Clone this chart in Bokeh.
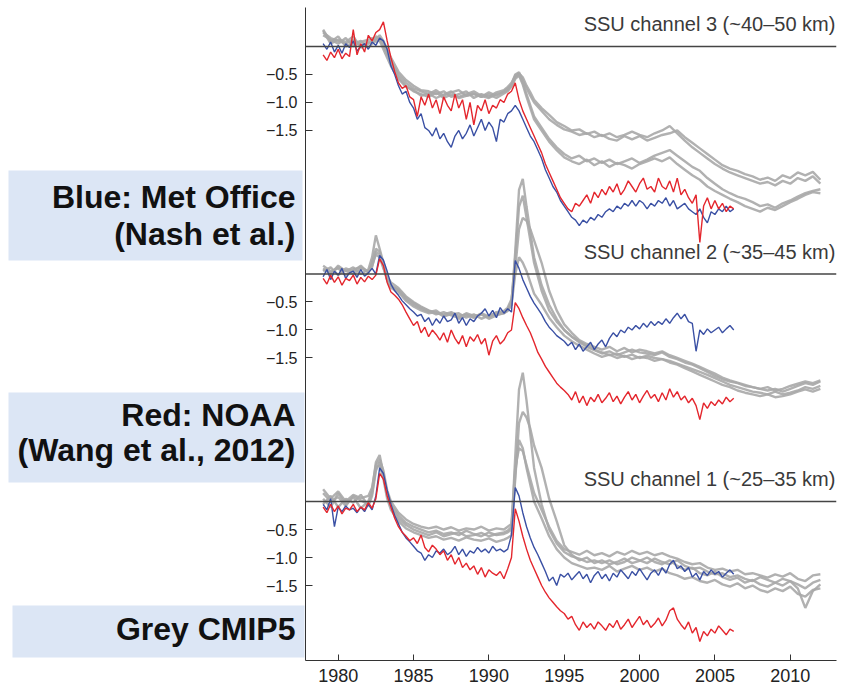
from bokeh.plotting import figure
from bokeh.layouts import row
from bokeh.models import Range1d, FixedTicker, Span, Label
from bokeh.core.properties import value
from bokeh.embed import file_html
from bokeh.resources import INLINE

# ---------------- data ----------------
obs_years = [1979.0 + 0.25 * i for i in range(110)]   # quarterly, 1979.0 - 2006.25

grey_years = [1979.0, 1979.5, 1980.0, 1980.5, 1981.0, 1981.5, 1982.0,
              1982.25, 1982.5, 1982.75, 1983.0, 1983.25, 1983.5,
              1984.0, 1984.5, 1985.0, 1985.5, 1986.0, 1986.5, 1987.0, 1987.5,
              1988.0, 1988.5, 1989.0, 1989.5, 1990.0, 1990.5, 1991.0,
              1991.25, 1991.5, 1991.75, 1992.0, 1992.25, 1992.5, 1992.75, 1993.0,
              1993.5, 1994.0, 1994.5, 1995.0, 1995.5, 1996.0, 1996.5, 1997.0,
              1997.5, 1998.0, 1998.5, 1999.0, 1999.5, 2000.0, 2000.5, 2001.0,
              2001.5, 2002.0, 2002.5, 2003.0, 2003.5, 2004.0, 2004.5, 2005.0,
              2005.5, 2006.0, 2006.5, 2007.0, 2007.5, 2008.0, 2008.5, 2009.0,
              2009.5, 2010.0, 2010.5, 2011.0, 2011.5, 2012.0]

# SSU channel 3
ch3_blue = [0.05, -0.05, 0.08, -0.10, 0.02, -0.12, 0.05, -0.02,
            0.10, -0.08, 0.00, 0.05, -0.05, 0.08, 0.02, 0.15,
            0.10, -0.05, -0.35, -0.50, -0.70, -0.85, -0.80, -1.00,
            -1.10, -1.30, -1.20, -1.45, -1.50, -1.60, -1.45, -1.65,
            -1.55, -1.70, -1.80, -1.60, -1.50, -1.65, -1.55, -1.40,
            -1.60, -1.45, -1.30, -1.50, -1.35, -1.45, -1.70, -1.30,
            -1.35, -1.20, -1.15, -1.05, -1.15, -1.30, -1.45, -1.60,
            -1.70, -1.85, -2.00, -2.20, -2.35, -2.50, -2.60, -2.75,
            -2.85, -2.95, -3.05, -3.10, -3.20, -3.10, -3.15, -3.05,
            -3.10, -3.00, -3.05, -2.95, -2.90, -2.95, -2.85, -2.90,
            -2.80, -2.85, -2.75, -2.85, -2.75, -2.80, -2.90, -2.80,
            -2.85, -2.75, -2.80, -2.70, -2.85, -2.75, -2.90, -2.85,
            -2.80, -2.90, -2.95, -3.00, -2.90, -3.05, -3.15, -2.95,
            -3.00, -2.90, -2.95, -2.85, -2.95, -2.90]
ch3_red = [-0.15, -0.25, -0.10, -0.20, -0.05, -0.22, -0.12, -0.18,
           0.30, -0.15, 0.05, -0.10, 0.20, 0.10, 0.25, 0.30,
           0.44, 0.10, -0.20, -0.45, -0.65, -0.75, -0.70, -0.90,
           -0.95, -1.25, -0.90, -1.05, -0.85, -1.10, -0.95, -1.20,
           -0.90, -1.05, -1.15, -0.85, -1.10, -0.95, -1.30, -1.00,
           -1.40, -1.05, -1.15, -0.95, -1.20, -1.05, -1.10, -0.95,
           -1.00, -0.85, -0.80, -0.65, -0.95, -1.15, -1.30, -1.45,
           -1.60, -1.75, -1.90, -2.10, -2.25, -2.40, -2.55, -2.70,
           -2.80, -2.90, -2.95, -2.80, -2.85, -2.75, -2.65, -2.80,
           -2.60, -2.70, -2.55, -2.65, -2.50, -2.60, -2.45, -2.65,
           -2.55, -2.40, -2.50, -2.60, -2.45, -2.35, -2.55, -2.50,
           -2.60, -2.35, -2.50, -2.55, -2.40, -2.60, -2.35, -2.65,
           -2.55, -2.70, -2.80, -2.65, -3.50, -2.85, -2.70, -2.90,
           -2.75, -2.90, -2.80, -2.95, -2.85, -2.90]
ch3_grey = [
    [0.25, 0.15, 0.10, 0.05, 0.12, 0.02, 0.08,
     0.10, 0.18, 0.15, 0.05, -0.10, -0.25,
     -0.50, -0.65, -0.75, -0.80, -0.85, -0.78, -0.88, -0.82, -0.78, -0.88, -0.85, -0.90, -0.82, -0.88, -0.80,
     -0.75, -0.68, -0.50, -0.46, -0.60, -0.75, -0.88, -1.00,
     -1.15, -1.30, -1.40, -1.48, -1.52, -1.58, -1.55, -1.62,
     -1.58, -1.65, -1.68, -1.60, -1.66, -1.60, -1.68, -1.63,
     -1.58, -1.55, -1.50, -1.62, -1.72, -1.82, -1.92, -2.02,
     -2.12, -2.18, -2.22, -2.28, -2.32, -2.38, -2.34, -2.40,
     -2.30, -2.35, -2.25, -2.30, -2.24, -2.38],
    [0.30, 0.08, 0.18, 0.00, 0.05, 0.10, -0.02,
     0.05, 0.12, 0.20, 0.10, -0.05, -0.20,
     -0.45, -0.60, -0.70, -0.78, -0.80, -0.85, -0.80, -0.90, -0.85, -0.80, -0.92, -0.85, -0.90, -0.82, -0.78,
     -0.72, -0.65, -0.52, -0.48, -0.55, -0.70, -0.82, -0.95,
     -1.10, -1.22, -1.35, -1.42, -1.50, -1.48, -1.56, -1.52,
     -1.60, -1.55, -1.62, -1.58, -1.52, -1.58, -1.62, -1.55,
     -1.50, -1.42, -1.55, -1.68, -1.80, -1.90, -2.00, -2.10,
     -2.18, -2.25, -2.30, -2.35, -2.40, -2.45, -2.42, -2.48,
     -2.40, -2.45, -2.35, -2.40, -2.32, -2.45],
    [0.20, 0.12, 0.05, 0.15, 0.00, 0.08, 0.12,
     0.15, 0.08, 0.12, 0.00, -0.15, -0.30,
     -0.55, -0.70, -0.80, -0.85, -0.90, -0.82, -0.92, -0.86, -0.90, -0.85, -0.80, -0.88, -0.92, -0.85, -0.82,
     -0.78, -0.70, -0.55, -0.50, -0.65, -0.85, -1.05, -1.25,
     -1.45, -1.65, -1.80, -1.92, -2.00, -1.95, -2.05, -2.00,
     -2.08, -2.02, -2.10, -2.05, -2.00, -2.08, -2.02, -1.95,
     -1.90, -1.85, -1.95, -2.05, -2.15, -2.22, -2.35, -2.45,
     -2.55, -2.62, -2.68, -2.72, -2.78, -2.85, -2.82, -2.88,
     -2.80, -2.75, -2.68, -2.62, -2.58, -2.55],
    [0.28, 0.05, 0.12, 0.08, 0.18, -0.02, 0.05,
     0.08, 0.15, 0.10, -0.05, -0.20, -0.35,
     -0.58, -0.72, -0.78, -0.88, -0.84, -0.92, -0.86, -0.80, -0.92, -0.88, -0.84, -0.90, -0.86, -0.92, -0.84,
     -0.80, -0.72, -0.58, -0.52, -0.68, -0.90, -1.10, -1.30,
     -1.50, -1.70, -1.85, -1.98, -2.05, -2.10, -2.02, -2.12,
     -2.05, -2.15, -2.08, -2.12, -2.18, -2.10, -2.05, -2.00,
     -2.05, -1.98, -2.10, -2.20, -2.30, -2.38, -2.50, -2.58,
     -2.65, -2.72, -2.78, -2.85, -2.90, -2.95, -2.88, -2.92,
     -2.85, -2.78, -2.72, -2.65, -2.60, -2.62],
]

# SSU channel 2
ch2_blue = [-0.05, 0.08, -0.10, 0.05, -0.02, 0.10, -0.08, 0.02,
            0.05, -0.06, 0.08, -0.04, 0.02, 0.10, 0.00, 0.33,
            0.25, 0.05, -0.18, -0.30, -0.38, -0.48, -0.55, -0.62,
            -0.68, -0.75, -0.72, -0.85, -0.78, -0.92, -0.80, -0.88,
            -0.75, -0.85, -0.82, -0.70, -0.88, -0.78, -0.92, -0.80,
            -0.85, -0.75, -0.70, -0.62, -0.75, -0.65, -0.78, -0.60,
            -0.70, -0.62, -0.68, 0.24, 0.10, -0.10, -0.25, -0.40,
            -0.52, -0.62, -0.72, -0.85, -0.95, -1.02, -1.10, -1.15,
            -1.20, -1.28, -1.22, -1.35, -1.25, -1.38, -1.30, -1.22,
            -1.35, -1.25, -1.18, -1.30, -1.15, -1.05, -1.12, -1.00,
            -1.05, -0.95, -1.00, -0.92, -0.98, -0.88, -0.95, -0.85,
            -0.92, -0.85, -0.90, -0.80, -0.88, -0.78, -0.70, -0.80,
            -0.72, -0.85, -0.88, -1.38, -1.00, -1.08, -0.98, -1.05,
            -1.00, -0.95, -1.05, -0.98, -0.92, -1.00]
ch2_red = [-0.08, -0.18, -0.02, -0.15, -0.05, -0.20, -0.08, -0.12,
           -0.02, -0.18, -0.06, -0.14, -0.04, -0.10, -0.02, 0.27,
           0.15, -0.15, -0.32, -0.38, -0.45, -0.55, -0.68, -0.80,
           -0.92, -0.85, -1.05, -0.95, -1.12, -1.00, -1.08, -1.18,
           -1.05, -1.22, -1.00, -1.15, -1.25, -1.10, -1.30, -1.12,
           -1.20, -1.08, -1.25, -1.15, -1.45, -1.20, -1.10, -1.25,
           -1.18, -1.05, -1.00, -0.51, -0.62, -0.78, -0.92, -1.05,
           -1.22, -1.40, -1.52, -1.65, -1.75, -1.85, -1.95, -2.02,
           -2.08, -2.15, -2.25, -2.10, -2.30, -2.18, -2.35, -2.20,
           -2.28, -2.15, -2.30, -2.22, -2.12, -2.28, -2.18, -2.32,
           -2.20, -2.10, -2.25, -2.15, -2.30, -2.18, -2.08, -2.22,
           -2.15, -2.28, -2.12, -2.25, -2.05, -2.20, -2.10, -2.25,
           -2.18, -2.30, -2.22, -2.35, -2.60, -2.30, -2.40, -2.28,
           -2.35, -2.25, -2.32, -2.20, -2.28, -2.22]
ch2_grey = [
    [0.10, 0.00, 0.15, 0.05, 0.12, 0.00, 0.08,
     0.30, 0.69, 0.45, 0.20, -0.05, -0.15,
     -0.25, -0.40, -0.50, -0.58, -0.65, -0.70, -0.72, -0.68, -0.75, -0.72, -0.78, -0.70, -0.76, -0.72, -0.70,
     -0.65, -0.55, 0.40, 1.50, 1.70, 1.20, 0.75, 0.30,
     -0.20, -0.55, -0.80, -1.00, -1.12, -1.22, -1.30, -1.36,
     -1.42, -1.38, -1.45, -1.40, -1.35, -1.40, -1.42, -1.45,
     -1.40, -1.48, -1.52, -1.58, -1.62, -1.68, -1.75, -1.82,
     -1.88, -1.92, -1.95, -2.00, -2.02, -2.05, -2.08, -2.05,
     -2.10, -2.05, -2.00, -1.95, -1.98, -1.92],
    [0.05, 0.12, -0.02, 0.10, 0.05, 0.15, 0.02,
     0.20, 0.45, 0.40, 0.15, -0.10, -0.20,
     -0.30, -0.45, -0.55, -0.62, -0.68, -0.65, -0.75, -0.72, -0.70, -0.78, -0.72, -0.80, -0.74, -0.70, -0.68,
     -0.62, -0.50, 0.30, 1.20, 1.40, 1.00, 0.60, 0.20,
     -0.30, -0.65, -0.85, -1.00, -1.12, -1.20, -1.28, -1.35,
     -1.40, -1.45, -1.42, -1.48, -1.44, -1.50, -1.46, -1.50,
     -1.52, -1.55, -1.60, -1.65, -1.70, -1.75, -1.80, -1.86,
     -1.92, -1.98, -2.02, -2.06, -2.10, -2.12, -2.15, -2.10,
     -2.15, -2.12, -2.08, -2.02, -2.05, -2.00],
    [0.15, 0.05, 0.10, -0.02, 0.08, 0.12, 0.05,
     0.15, 0.35, 0.30, 0.10, -0.08, -0.22,
     -0.28, -0.42, -0.52, -0.60, -0.66, -0.72, -0.68, -0.74, -0.78, -0.70, -0.75, -0.72, -0.78, -0.68, -0.66,
     -0.60, -0.45, 0.10, 0.80, 1.00, 0.95, 0.80, 0.60,
     0.20, -0.30, -0.65, -0.90, -1.05, -1.18, -1.25, -1.30,
     -1.35, -1.30, -1.38, -1.32, -1.40, -1.35, -1.38, -1.42,
     -1.38, -1.45, -1.50, -1.55, -1.60, -1.66, -1.72, -1.78,
     -1.85, -1.90, -1.94, -1.98, -2.02, -2.05, -2.02, -2.08,
     -2.05, -2.00, -1.96, -1.92, -1.95, -1.90],
    [0.08, 0.02, 0.12, 0.06, 0.00, 0.10, 0.04,
     0.12, 0.40, 0.35, 0.12, -0.12, -0.25,
     -0.32, -0.48, -0.58, -0.65, -0.70, -0.68, -0.76, -0.70, -0.80, -0.74, -0.78, -0.72, -0.80, -0.74, -0.70,
     -0.66, -0.55, 0.00, 0.30, 0.20, 0.05, -0.15, -0.35,
     -0.55, -0.78, -0.95, -1.10, -1.20, -1.28, -1.35, -1.42,
     -1.48, -1.44, -1.50, -1.46, -1.52, -1.48, -1.50, -1.55,
     -1.52, -1.58, -1.62, -1.68, -1.74, -1.80, -1.86, -1.92,
     -1.98, -2.02, -2.08, -2.12, -2.15, -2.18, -2.15, -2.20,
     -2.18, -2.15, -2.10, -2.06, -2.10, -2.05],
]

# SSU channel 1
ch1_blue = [-0.05, -0.15, 0.05, -0.45, -0.10, -0.18, -0.08, -0.15,
            -0.12, -0.20, -0.10, -0.18, -0.05, -0.15, 0.10, 0.60,
            0.50, 0.20, -0.05, -0.25, -0.40, -0.55, -0.65, -0.72,
            -0.80, -0.88, -0.92, -1.05, -0.95, -1.00, -0.88, -0.92,
            -0.85, -0.95, -0.90, -0.80, -0.95, -0.85, -0.98, -0.88,
            -0.92, -0.82, -0.90, -0.85, -0.92, -0.80, -0.88, -0.85,
            -0.90, -0.85, -0.60, 0.25, 0.10, -0.20, -0.45, -0.65,
            -0.82, -0.95, -1.10, -1.25, -1.42, -1.35, -1.50, -1.30,
            -1.35, -1.28, -1.40, -1.32, -1.25, -1.38, -1.30, -1.45,
            -1.32, -1.25, -1.38, -1.30, -1.42, -1.28, -1.35, -1.22,
            -1.30, -1.38, -1.25, -1.32, -1.20, -1.30, -1.40, -1.28,
            -1.22, -1.32, -1.18, -1.28, -1.12, -1.05, -1.20, -1.15,
            -1.25, -1.18, -1.35, -1.28, -1.40, -1.25, -1.32, -1.22,
            -1.30, -1.25, -1.35, -1.28, -1.22, -1.30]
ch1_red = [-0.10, -0.20, -0.05, -0.18, -0.08, -0.22, -0.12, -0.15,
           -0.05, -0.18, -0.10, -0.15, -0.02, -0.12, 0.05, 0.50,
           0.40, 0.10, -0.10, -0.30, -0.45, -0.55, -0.62, -0.70,
           -0.65, -0.75, -0.60, -0.82, -0.90, -0.78, -0.85, -0.95,
           -0.88, -1.05, -0.95, -1.12, -1.00, -1.18, -1.10, -1.22,
           -1.15, -1.30, -1.18, -1.35, -1.22, -1.28, -1.32, -1.25,
           -1.38, -1.20, -1.00, -0.13, -0.35, -0.62, -0.85, -1.05,
           -1.20, -1.35, -1.50, -1.62, -1.72, -1.80, -1.88, -1.95,
           -2.00, -2.10, -2.05, -2.20, -2.30, -2.15, -2.25, -2.18,
           -2.28, -2.15, -2.22, -2.30, -2.18, -2.25, -2.12, -2.28,
           -2.20, -2.10, -2.25, -2.15, -2.05, -2.20, -2.12, -2.25,
           -2.18, -2.08, -2.22, -2.12, -1.95, -1.90, -2.10, -2.20,
           -2.28, -2.15, -2.35, -2.25, -2.50, -2.32, -2.40, -2.28,
           -2.35, -2.22, -2.30, -2.38, -2.28, -2.32]
ch1_grey = [
    [0.05, -0.10, 0.15, -0.05, 0.08, -0.12, 0.00,
     0.20, 0.70, 0.83, 0.50, 0.15, -0.05,
     -0.25, -0.38, -0.45, -0.50, -0.55, -0.52, -0.58, -0.55, -0.60, -0.52, -0.58, -0.62, -0.55, -0.60, -0.58,
     -0.55, -0.50, 0.80, 2.00, 2.30, 1.80, 1.20, 0.60,
     -0.05, -0.50, -0.75, -0.90, -0.98, -1.02, -1.08, -1.05,
     -1.10, -1.05, -1.12, -1.08, -1.00, -1.05, -1.10, -1.02,
     -1.08, -1.12, -1.05, -1.15, -1.20, -1.18, -1.25, -1.30,
     -1.28, -1.35, -1.32, -1.38, -1.42, -1.35, -1.40, -1.45,
     -1.38, -1.42, -1.48, -1.55, -1.45, -1.40],
    [-0.05, 0.10, -0.10, 0.05, -0.02, 0.12, -0.08,
     0.10, 0.55, 0.70, 0.45, 0.10, -0.10,
     -0.30, -0.42, -0.50, -0.55, -0.60, -0.55, -0.62, -0.58, -0.55, -0.62, -0.60, -0.56, -0.62, -0.58, -0.55,
     -0.52, -0.45, 0.40, 1.40, 1.60, 1.50, 1.30, 1.00,
     0.60, 0.05, -0.35, -0.78, -0.95, -1.05, -1.00, -1.10,
     -1.05, -1.12, -1.08, -1.02, -1.10, -1.06, -1.00, -1.08,
     -1.12, -1.05, -1.15, -1.22, -1.18, -1.28, -1.32, -1.25,
     -1.35, -1.40, -1.36, -1.45, -1.40, -1.48, -1.52, -1.45,
     -1.50, -1.42, -1.55, -1.90, -1.60, -1.48],
    [0.15, 0.00, 0.08, -0.08, 0.10, 0.02, -0.05,
     0.15, 0.60, 0.65, 0.40, 0.05, -0.15,
     -0.35, -0.48, -0.55, -0.60, -0.65, -0.62, -0.68, -0.65, -0.70, -0.64, -0.68, -0.70, -0.66, -0.72, -0.68,
     -0.65, -0.60, 0.50, 1.10, 0.95, 0.60, 0.30, 0.00,
     -0.30, -0.62, -0.85, -1.00, -1.10, -1.15, -1.20, -1.18,
     -1.22, -1.15, -1.25, -1.20, -1.15, -1.22, -1.18, -1.25,
     -1.20, -1.28, -1.32, -1.38, -1.35, -1.42, -1.45, -1.40,
     -1.48, -1.52, -1.46, -1.55, -1.50, -1.58, -1.62, -1.55,
     -1.60, -1.52, -1.65, -1.70, -1.58, -1.55],
    [0.22, 0.05, 0.18, 0.00, 0.12, 0.06, 0.10,
     0.25, 0.65, 0.75, 0.55, 0.20, 0.00,
     -0.20, -0.32, -0.40, -0.45, -0.48, -0.45, -0.50, -0.46, -0.52, -0.48, -0.50, -0.45, -0.52, -0.48, -0.50,
     -0.45, -0.40, 0.60, 0.95, 0.90, 0.65, 0.40, 0.15,
     -0.15, -0.45, -0.70, -0.85, -0.90, -0.95, -0.88, -0.96,
     -0.92, -0.98, -0.90, -0.95, -0.88, -0.94, -0.90, -0.96,
     -0.92, -0.98, -1.02, -1.08, -1.12, -1.10, -1.18, -1.22,
     -1.20, -1.25, -1.22, -1.30, -1.28, -1.32, -1.36, -1.30,
     -1.34, -1.28, -1.38, -1.42, -1.32, -1.30],
]

panel_names = ["SSU channel 3 (~40\u201350 km)", "SSU channel 2 (~35\u201345 km)", "SSU channel 1 (~25\u201335 km)"]
panel_offsets = [8.125, 4.0625, 0.0]
tick_values = [-0.5, -1.0, -1.5]
x_ticks = [1980, 1985, 1990, 1995, 2000, 2005, 2010]
legend_lines = [["Blue: Met Office", "(Nash et al.)"], ["Red: NOAA", "(Wang et al., 2012)"], ["Grey CMIP5"]]

for arr in [ch3_blue, ch3_red, ch2_blue, ch2_red, ch1_blue, ch1_red]:
    assert len(arr) == len(obs_years), len(arr)
for grp in [ch3_grey, ch2_grey, ch1_grey]:
    for arr in grp:
        assert len(arr) == len(grey_years), len(arr)

# ---------------- style ----------------
FONT = "Liberation Sans"
BLUE = "#3a50a4"
RED = "#e4262d"
GREY = "#a9a9a9"
BOXFILL = "#dce6f5"

PX_PER_UNIT = 56.0
Y_BOTTOM = -2.839
Y_TOP = 8.821
TOP_BORDER = 7
BOTTOM_BORDER = 32
LEFT_W = 305

# ---------------- main plot ----------------
p = figure(width=841 - LEFT_W, height=692, output_backend="svg", toolbar_location=None,
           x_range=Range1d(1977.83, 2013.07), y_range=Range1d(Y_BOTTOM, Y_TOP),
           min_border_left=0, min_border_right=5, min_border_top=TOP_BORDER, min_border_bottom=BOTTOM_BORDER)
p.title.visible = False
p.xgrid.visible = False
p.ygrid.visible = False
p.outline_line_color = None

panels = [(ch3_grey, ch3_blue, ch3_red), (ch2_grey, ch2_blue, ch2_red), (ch1_grey, ch1_blue, ch1_red)]
for (greys, blue, red), off in zip(panels, panel_offsets):
    for g in greys:
        p.line(grey_years, [v + off for v in g], line_color=GREY, line_width=2.4, line_alpha=0.9)
    p.line(obs_years, [v + off for v in blue], line_color=BLUE, line_width=1.4)
    p.line(obs_years, [v + off for v in red], line_color=RED, line_width=1.4)

for name, off in zip(panel_names, panel_offsets):
    p.add_layout(Span(location=off, dimension="width", line_color="#444444", line_width=1.5))
    p.add_layout(Label(x=2013.0, y=off + 0.2, text=name, text_align="right", text_baseline="bottom",
                       text_font=FONT, text_font_size="20px", text_color="#3a3a3a"))

p.xaxis.ticker = FixedTicker(ticks=x_ticks)
p.xaxis.major_tick_in = 6
p.xaxis.major_tick_out = 0
p.xaxis.minor_tick_line_color = None
p.xaxis.axis_line_color = "#333333"
p.xaxis.major_tick_line_color = "#333333"
p.xaxis.major_label_text_font = FONT
p.xaxis.major_label_text_font_size = "18px"
p.xaxis.major_label_text_color = "#222222"
p.xaxis.major_label_standoff = 8

ytick_pos = [off + v for off in panel_offsets for v in tick_values]
ytick_text = ["\u2212" + format(abs(v), ".1f") for off in panel_offsets for v in tick_values]
p.yaxis.ticker = FixedTicker(ticks=ytick_pos)
p.yaxis.major_tick_in = 7
p.yaxis.major_tick_out = 0
p.yaxis.minor_tick_line_color = None
p.yaxis.axis_line_color = "#333333"
p.yaxis.major_tick_line_color = "#333333"
p.yaxis.major_label_text_font_size = "0px"
p.yaxis.major_label_text_color = None
p.yaxis.major_label_standoff = 0

# ---------------- left panel: tick labels + legend boxes (same vertical scale) ----------------
lf = figure(width=LEFT_W, height=692, output_backend="svg", toolbar_location=None,
            x_range=Range1d(0, LEFT_W), y_range=p.y_range,
            x_axis_location=None, y_axis_location=None,
            min_border_left=0, min_border_right=0, min_border_top=TOP_BORDER, min_border_bottom=BOTTOM_BORDER)
lf.title.visible = False
lf.xgrid.visible = False
lf.ygrid.visible = False
lf.outline_line_color = None


def ypx(px):
    return Y_TOP - (px - TOP_BORDER) / PX_PER_UNIT


# legend boxes: (left, right, top, bottom, text baselines) in pixels of the page
box_specs = [(8, 302, 170, 260, [196, 233]), (8, 304, 392, 482, [414, 449]), (12, 304, 605, 657, [628])]
lf.quad(left=[b[0] for b in box_specs], right=[b[1] for b in box_specs],
        top=[ypx(b[2]) for b in box_specs], bottom=[ypx(b[3]) for b in box_specs],
        fill_color=BOXFILL, line_color=None)
lx, ly, lt = [], [], []
for spec, lines in zip(box_specs, legend_lines):
    for yb, txt in zip(spec[4], lines):
        lx.append(295)
        ly.append(ypx(yb))
        lt.append(txt)
lf.text(x=lx, y=ly, text=lt, text_align="right", text_baseline="alphabetic",
        text_font=value(FONT), text_font_size=value("32px"), text_font_style="bold", text_color="#111111")

# y tick labels, positioned on the shared vertical scale
lf.text(x=[297] * len(ytick_pos), y=ytick_pos, text=ytick_text, text_align="right", text_baseline="middle",
        text_font=value(FONT), text_font_size=value("16px"), text_color="#222222")

layout = row(lf, p)
open("out.html", "w").write(file_html(layout, INLINE))
